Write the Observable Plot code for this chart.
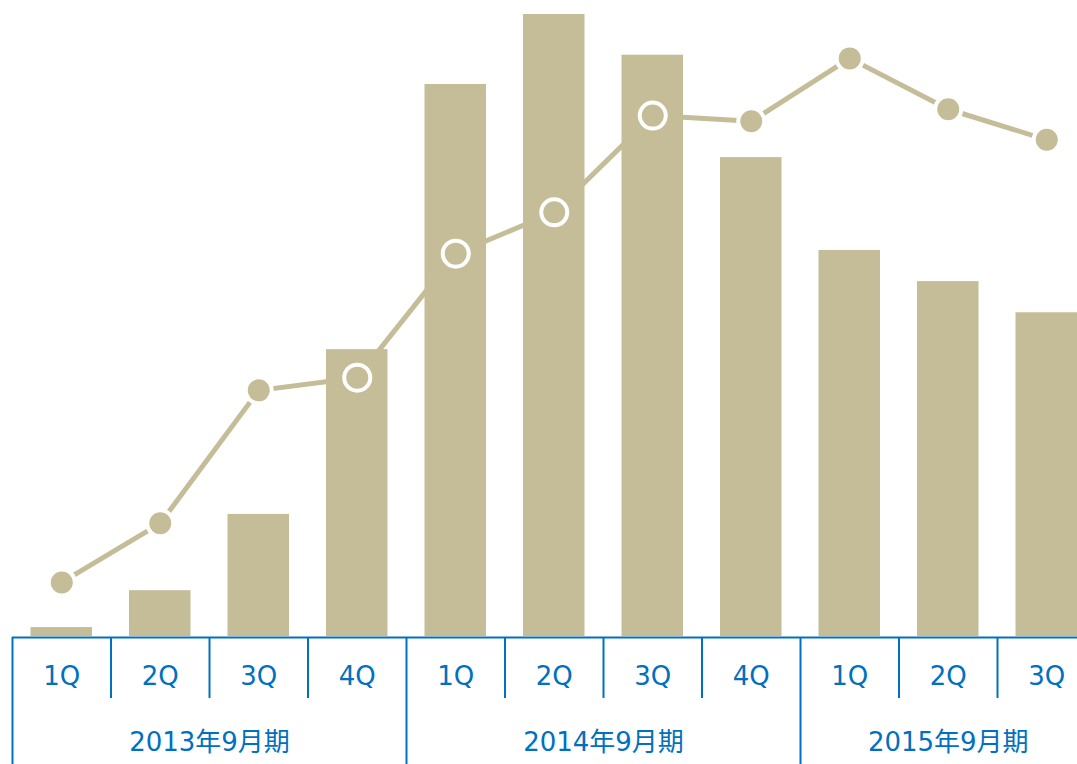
<!DOCTYPE html>
<html>
<head>
<meta charset="utf-8">
<script src="https://cdn.jsdelivr.net/npm/d3@7"></script>
<script src="https://cdn.jsdelivr.net/npm/@observablehq/plot@0.6"></script>
<style>
  html, body { margin: 0; padding: 0; background: #fff; overflow: hidden; }
  #chart svg { display: block; }
</style>
</head>
<body>
<div id="chart"></div>
<script>
// Quarter labels and fiscal periods
const quarters = ["1Q", "2Q", "3Q", "4Q", "1Q", "2Q", "3Q", "4Q", "1Q", "2Q", "3Q"];
const periods = [
  "2013年9月期", "2013年9月期", "2013年9月期", "2013年9月期",
  "2014年9月期", "2014年9月期", "2014年9月期", "2014年9月期",
  "2015年9月期", "2015年9月期", "2015年9月期"
];
// Bar series (relative scale, max ≈ 100)
const barValues = [1.4, 7.2, 19.2, 45.1, 86.8, 97.8, 91.4, 75.3, 60.7, 55.8, 50.9];
// Line series (same relative scale)
const lineValues = [8.5, 17.8, 38.7, 40.7, 60.2, 66.7, 81.9, 81.0, 90.9, 82.9, 78.1];

const tan = "#C4BD97";
const blue = "#0070C0";
const font = "'DejaVu Sans', 'Noto Sans CJK JP', sans-serif";

const data = quarters.map((q, i) => ({ i, q, period: periods[i], bar: barValues[i], line: lineValues[i] }));
const periodNames = [...new Set(periods)];
const periodData = periodNames.map(p => {
  const idx = data.filter(d => d.period === p).map(d => d.i);
  return { period: p, start: d3.min(idx), center: d3.mean(idx) + 0.5 };
});

const xScale = { domain: [0, quarters.length], range: [12, 12 + 98.5 * quarters.length], axis: null };

const chart = Plot.plot({
  width: 1077,
  height: 636,
  margin: 0,
  x: xScale,
  y: { domain: [0, 100], range: [636, 0], axis: null },
  marks: [
    Plot.rectY(data, { x1: d => d.i, x2: d => d.i + 1, y: "bar", insetLeft: 18.5, insetRight: 18.5, fill: tan }),
    Plot.line(data, { x: d => d.i + 0.5, y: "line", stroke: tan, strokeWidth: 5 }),
    Plot.dot(data, { x: d => d.i + 0.5, y: "line", r: 13, fill: tan, stroke: "white", strokeWidth: 4 })
  ]
});

const axis = Plot.plot({
  width: 1077,
  height: 128,
  margin: 0,
  x: xScale,
  y: { domain: [0, 2], range: [1, 128], axis: null },
  style: { fontFamily: font, background: "#fff" },
  marks: [
    Plot.ruleY([0], { x1: 0, x2: quarters.length, stroke: blue, strokeWidth: 2 }),
    Plot.ruleX(data.filter(d => !periodData.some(p => p.start === d.i)), { x: "i", y1: 0, y2: 0.96, stroke: blue, strokeWidth: 2 }),
    Plot.ruleX(periodData, { x: "start", y1: 0, y2: 2, stroke: blue, strokeWidth: 2 }),
    Plot.text(data, { x: d => d.i + 0.5, y: 0.5, text: "q", fill: blue, fontSize: 26, dy: 7 }),
    Plot.text(periodData, { x: "center", y: 1.5, text: "period", fill: blue, fontSize: 26, dy: 10 })
  ]
});

const el = document.getElementById("chart");
el.appendChild(chart);
el.appendChild(axis);
</script>
</body>
</html>
